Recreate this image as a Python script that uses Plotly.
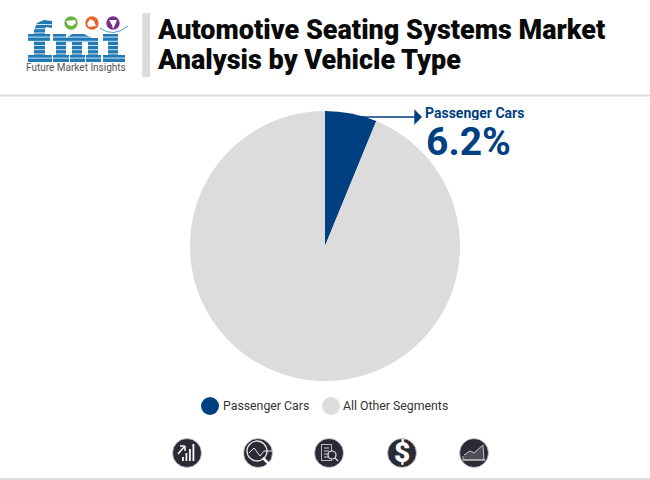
import plotly.graph_objects as go

categories = ['Passenger Cars', 'All Other Segments']
values = [6.2, 93.8]
colors = ['#003f80', '#dcdcdc']

title_lines = ['Automotive Seating Systems Market', 'Analysis by Vehicle Type']
icon_centers = [187, 258, 329, 402, 474]
DARK = '#2b2b36'
BLUE = '#1f7ab5'


def px(x):
    return x / 650


def py(y):
    return 1 - y / 480


def rect(x0, y0, x1, y1, color):
    return dict(type='rect', xref='paper', yref='paper', x0=px(x0), x1=px(x1), y0=py(y0), y1=py(y1),
                fillcolor=color, line_width=0, layer='above')


def circle(cx, cy, r, color, line=None, width=1.5):
    return dict(type='circle', xref='paper', yref='paper', x0=px(cx - r), x1=px(cx + r), y0=py(cy - r),
                y1=py(cy + r), fillcolor=color, line=dict(width=width if line else 0, color=line or color),
                layer='above')


def line(x0, y0, x1, y1, color='white', width=1.5):
    return dict(type='line', xref='paper', yref='paper', x0=px(x0), x1=px(x1), y0=py(y0), y1=py(y1),
                line=dict(color=color, width=width), layer='above')


def poly(points, color):
    path = 'M ' + ' L '.join(f'{px(x):.5f},{py(y):.5f}' for x, y in points) + ' Z'
    return dict(type='path', xref='paper', yref='paper', path=path, fillcolor=color, line_width=0, layer='above')


fig = go.Figure(go.Pie(labels=categories, values=values, sort=False, direction='clockwise', rotation=0,
                       marker=dict(colors=colors, line_width=0), textinfo='none', hoverinfo='label+percent',
                       domain=dict(x=[px(190), px(460)], y=[py(381), py(111)])))

shapes = [
    rect(142, 13, 150, 77, '#dcdcdc'),
    rect(0, 94.5, 650, 96.5, '#dcdcdc'),
    rect(0, 478, 650, 480, '#dcdcdc'),
    circle(210, 406, 9, colors[0]),
    circle(331, 406, 9, colors[1]),
]

# logo letters
shapes += [
    # f
    rect(34, 30, 45, 58, BLUE), rect(28, 34, 50, 41, BLUE), rect(28, 55, 52, 62, BLUE),
    poly([(34, 30), (37, 23), (44, 20), (52, 21), (52, 28), (46, 27), (45, 30)], BLUE),
    # m
    rect(53, 34, 65, 41, BLUE), rect(56, 34, 66, 62, BLUE), rect(53, 55, 69, 62, BLUE),
    poly([(66, 38), (72, 34), (84, 34), (92, 38), (98, 42), (66, 42)], BLUE),
    rect(72, 38, 82, 62, BLUE), rect(70, 55, 85, 62, BLUE),
    rect(88, 38, 98, 62, BLUE), rect(86, 55, 101, 62, BLUE),
    # i
    rect(108, 34, 118, 62, BLUE), rect(103, 34, 118, 41, BLUE), rect(103, 55, 125, 62, BLUE),
]
for y in [24.5, 28.7, 32.9, 37.1, 41.3, 45.5, 49.7, 53.9, 58.1]:
    shapes.append(line(27, y, 127, y, 'white', 0.8))
shapes += [
    circle(71, 23, 6.7, '#6cb33f'), circle(92, 23, 6.7, '#e8622a'), circle(113, 23, 6.7, '#7b2d8b'),
    poly([(66, 21), (75, 20), (76, 23), (72, 26), (68, 25)], 'white'),
    poly([(90, 19), (94, 21), (96, 26), (89, 27), (87, 24)], 'white'),
    poly([(109, 20), (117, 20), (115, 25), (113, 29), (112, 25)], 'white'),
    dict(type='path', xref='paper', yref='paper',
         path=f'M {px(100):.5f},{py(28):.5f} Q {px(113):.5f},{py(38):.5f} {px(128):.5f},{py(26):.5f}',
         line=dict(color='#4a9bd1', width=1), layer='above'),
]

# icon row
for cx in icon_centers:
    shapes.append(circle(cx, 453, 14.5, DARK, '#d8d8dc', 0.8))
cx = icon_centers[0]
for i, h in enumerate([4, 8, 12, 17]):
    shapes.append(rect(cx - 5 + i * 3.5, 461 - h, cx - 3.2 + i * 3.5, 461, 'white'))
shapes += [line(cx - 9, 454, cx - 3, 447), line(cx - 7, 446, cx - 2, 446), line(cx - 2, 446, cx - 2, 451)]
cx = icon_centers[1]
shapes += [circle(cx - 1, 451, 10, DARK, '#e6e6e6', 1.3), line(cx + 5, 458, cx + 11, 464, 'white', 2.5),
           line(cx - 9, 453, cx - 4, 448, '#e6e6e6', 1), line(cx - 4, 448, cx + 2, 456, '#e6e6e6', 1),
           line(cx + 2, 456, cx + 6, 451, '#e6e6e6', 1), line(cx + 6, 451, cx + 14, 451, '#e6e6e6', 1)]
cx = icon_centers[2]
shapes += [rect(cx - 8, 444, cx + 3, 461, '#b8b8bc'), rect(cx - 7, 445, cx + 2, 460, DARK),
           line(cx - 5, 448, cx, 448, '#d0d0d0', 1), line(cx - 5, 451, cx, 451, '#d0d0d0', 1),
           line(cx - 5, 454, cx, 454, '#d0d0d0', 1), line(cx - 5, 457, cx, 457, '#d0d0d0', 1),
           circle(cx + 3, 455, 4, DARK, '#e6e6e6', 1.2), line(cx + 6, 458, cx + 9, 461, '#e6e6e6', 1.2)]
cx = icon_centers[4]
shapes += [poly([(cx - 10, 460), (cx - 10, 455), (cx - 4, 451), (cx, 453), (cx + 9, 445), (cx + 10, 460)], '#4d4d58'),
           line(cx - 10, 455, cx - 4, 451, '#c8c8c8', 1), line(cx - 4, 451, cx, 453, '#c8c8c8', 1),
           line(cx, 453, cx + 9, 445, '#c8c8c8', 1), line(cx + 9, 445, cx + 10, 460, '#c8c8c8', 1),
           line(cx - 11, 460, cx + 11, 460, '#c8c8c8', 1.5), line(cx - 11, 456, cx - 11, 460, '#c8c8c8', 1)]

title_font = dict(family='Roboto', size=27, color='#0a0a0a', weight=900)
annotations = [
    dict(x=px(155), y=py(30), text=title_lines[0], font=title_font),
    dict(x=px(155), y=py(60), text=title_lines[1], font=title_font),
    dict(x=px(76), y=py(68), xanchor='center', text='Future Market Insights', font=dict(family='Roboto', size=10, color='#555555')),
    dict(x=px(423), y=py(113), text=f'<b>{categories[0]}</b>', height=15, font=dict(family='Roboto', size=14, color=colors[0])),
    dict(x=px(423.5), y=py(142), text=f'<b>{values[0]}%</b>', height=30, font=dict(family='Roboto', size=39, color=colors[0])),
    dict(x=px(221), y=py(406), text=categories[0], font=dict(family='Roboto', size=12.3, color='#333333')),
    dict(x=px(341), y=py(406), text=categories[1], font=dict(family='Roboto', size=12.3, color='#333333')),
    dict(x=px(402), y=py(452), xanchor='center', text='$', font=dict(family='Roboto', size=28, color='white', weight=900)),
]
for a in annotations:
    a.update(xref='paper', yref='paper', showarrow=False)
    a.setdefault('xanchor', 'left')
    a.setdefault('yanchor', 'middle')

# leader arrow from the slice to the callout
annotations.append(dict(x=px(422), y=py(117), ax=-64, ay=0, xref='paper', yref='paper', axref='pixel',
                        ayref='pixel', text='', showarrow=True, arrowhead=1, arrowsize=1.6, arrowwidth=1.6,
                        arrowcolor=colors[0]))

fig.update_layout(width=650, height=480, margin=dict(l=0, r=0, t=0, b=0), paper_bgcolor='white',
                  showlegend=False, shapes=shapes, annotations=annotations)
# the page body has a default margin, drop it so the figure fills the window
fig.write_html("out.html", config=dict(displayModeBar=False), post_script="document.body.style.margin = '0';")
